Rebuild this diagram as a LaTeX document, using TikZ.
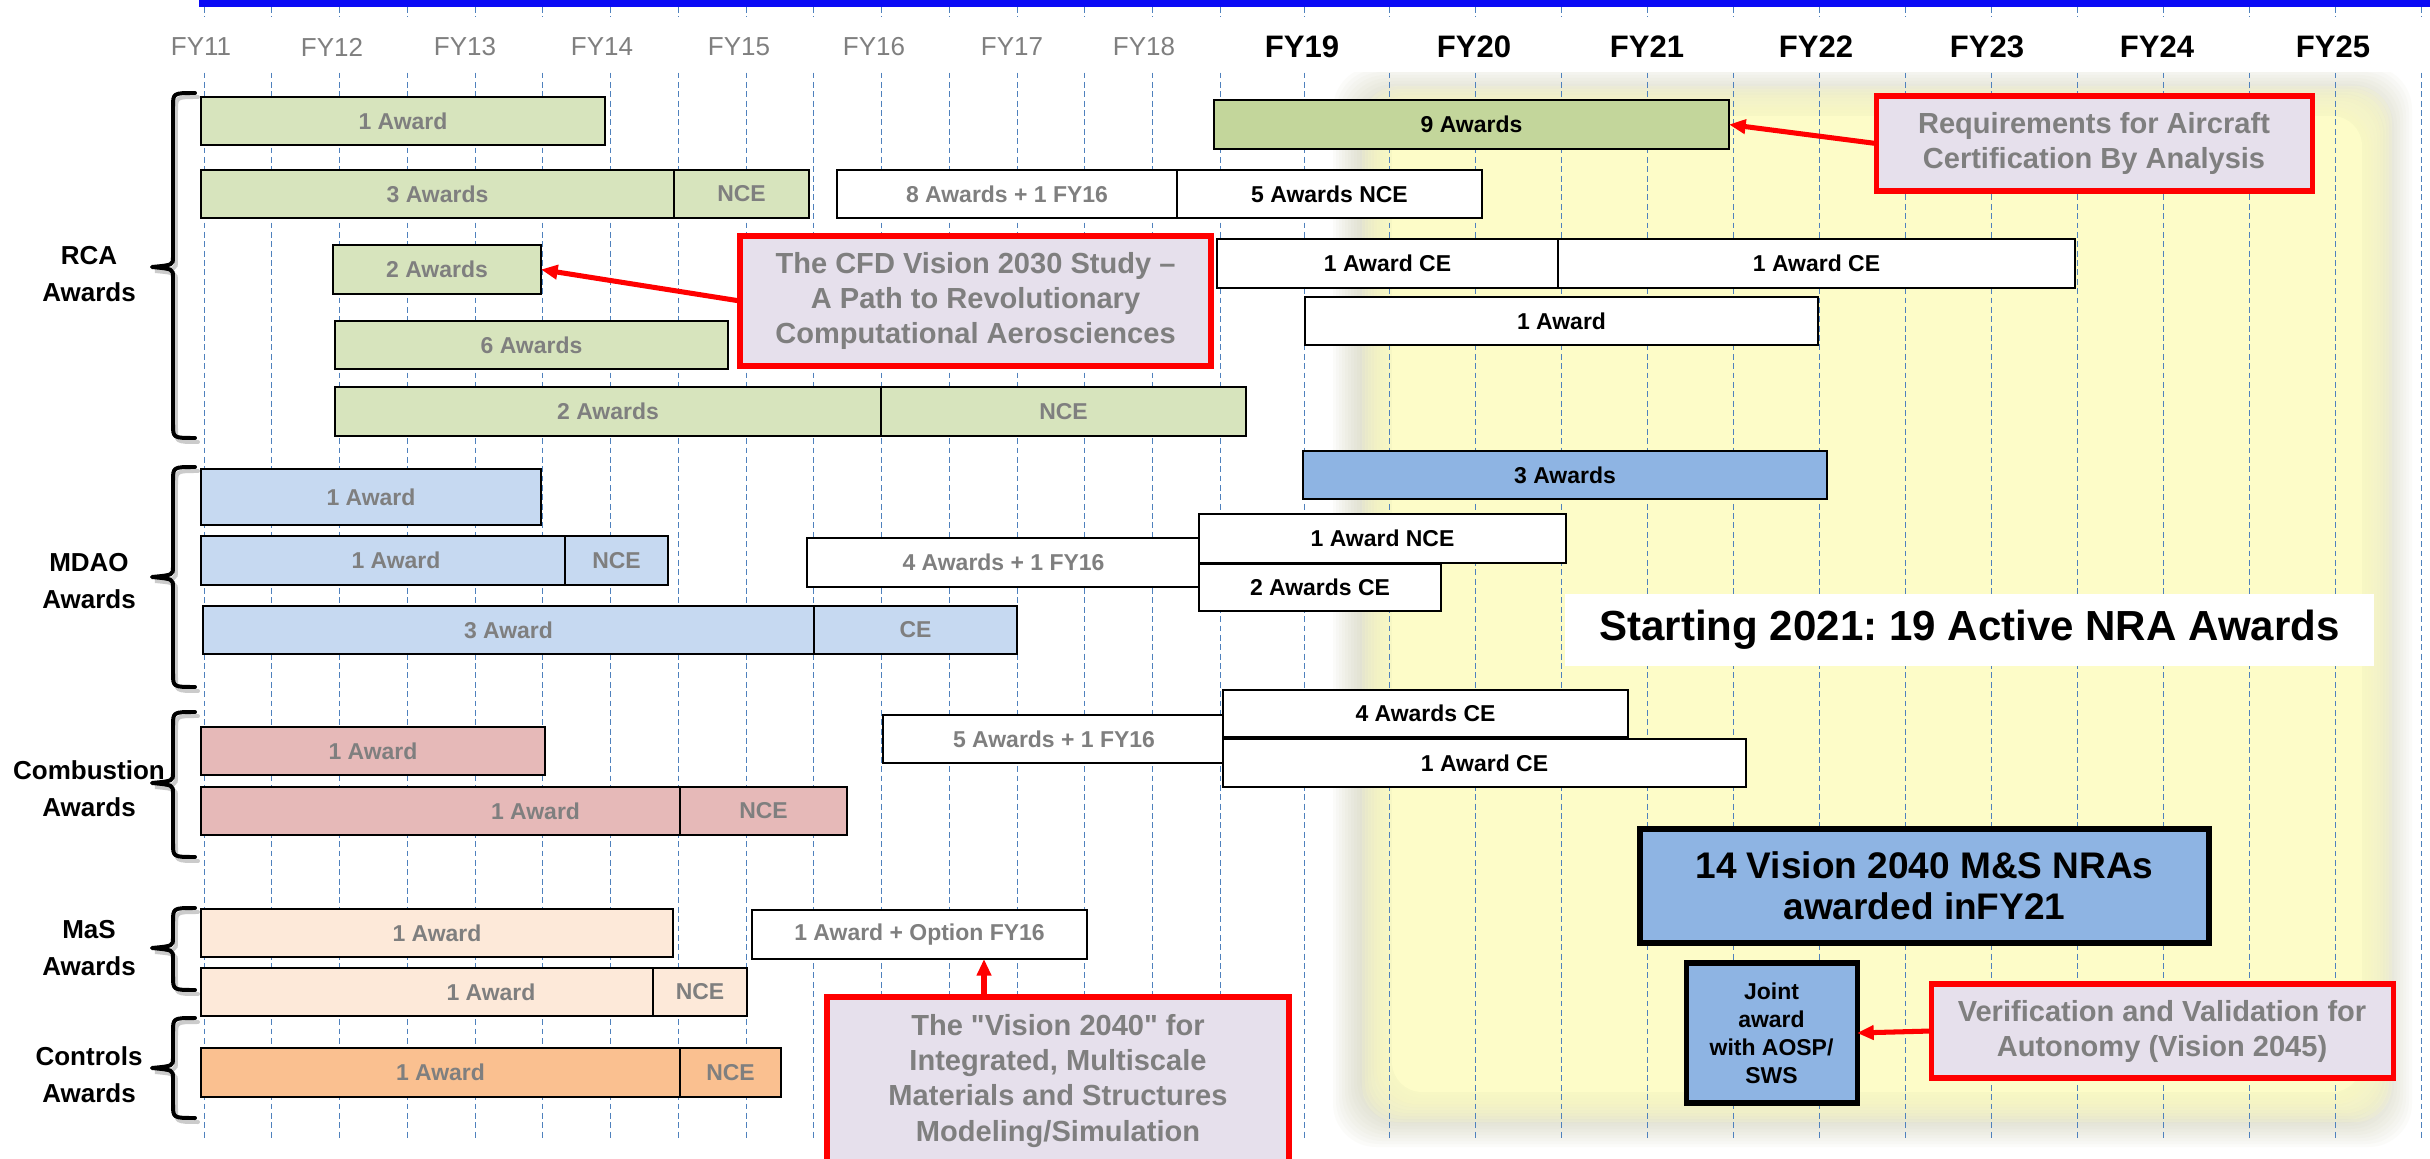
\documentclass[tikz,border=0pt]{standalone}
\usepackage{fontspec}
\setmainfont{Liberation Sans}
\usetikzlibrary{arrows.meta}
\definecolor{grnL}{HTML}{D7E4BD}
\definecolor{grnD}{HTML}{C3D69B}
\definecolor{bluL}{HTML}{C6D9F1}
\definecolor{bluD}{HTML}{8EB4E3}
\definecolor{pnk}{HTML}{E6B9B8}
\definecolor{pch}{HTML}{FDE9D9}
\definecolor{org}{HTML}{FAC090}
\definecolor{calf}{HTML}{E6E0EC}
\definecolor{tgray}{HTML}{7F7F7F}
\definecolor{dashc}{HTML}{4F81BD}
\definecolor{yel}{HTML}{FDFCC8}
\definecolor{glow}{HTML}{C4C4A0}
\definecolor{topblue}{HTML}{0A0AF5}
\newcommand{\bx}[7]{\node[#6, anchor=north west, minimum width={(#4-#2)*0.03cm}, minimum height={(#5-#3)*0.03cm}] (#1) at (#2,#3) {#7};}
\newcommand{\brc}[3]{%
  \draw[brshadow] (195,#1) .. controls (173,#1) .. (173,{#1+14}) -- (173,{#3-10}) .. controls (173,{#3-2}) .. (152,#3) .. controls (173,{#3+2}) .. (173,{#3+10}) -- (173,{#2-14}) .. controls (173,#2) .. (195,#2);
  \draw[brc] (195,#1) .. controls (173,#1) .. (173,{#1+14}) -- (173,{#3-10}) .. controls (173,{#3-2}) .. (152,#3) .. controls (173,{#3+2}) .. (173,{#3+10}) -- (173,{#2-14}) .. controls (173,#2) .. (195,#2);}
\frenchspacing
\begin{document}
\begin{tikzpicture}[x=0.03cm, y=-0.03cm,
  bx/.style={draw=black, line width=1.7pt, inner sep=0pt, outer sep=0pt, font=\fontsize{19.6}{23}\selectfont\bfseries, text=tgray},
  blk/.style={text=black},
  call/.style={draw=red, line width=4.3pt, fill=calf, text=tgray, align=center, inner sep=0pt, outer sep=0pt, font=\fontsize{24.8}{29.9}\selectfont\bfseries},
  redarrow/.style={draw=red, line width=4.3pt, -{Triangle[length=0.5cm,width=0.42cm]}},
  dl/.style={draw=dashc, line width=0.8pt, dash pattern=on 5pt off 3pt},
  grp/.style={align=center, font=\fontsize{22.2}{31.6}\selectfont\bfseries, inner sep=0pt},
  fyl/.style={font=\fontsize{22.2}{26}\selectfont, text=tgray, inner sep=0pt},
  fyr/.style={font=\fontsize{26.5}{30}\selectfont\bfseries, text=black, inner sep=0pt},
  brc/.style={draw=black, line width=3.4pt, line cap=round, line join=round},
  brshadow/.style={draw=black!40, opacity=0.5, line width=3.4pt, line cap=round, shift={(3,4)}}
]
\useasboundingbox (0,0) rectangle (2430,1159);
\fill[white] (0,0) rectangle (2430,1159);
% yellow highlighted region with soft edge
\foreach \i in {0,...,15} {
  \fill[glow, opacity=0.055, rounded corners=1.3cm] ({1333+3*\i},{66+3*\i}) rectangle ({2412-3*\i},{1147-3*\i});
}
\foreach \i in {0,...,9} {
  \fill[yel, opacity=0.22, rounded corners=1.1cm] ({1362+3*\i},{86+3*\i}) rectangle ({2392-3*\i},{1122-3*\i});
}
\fill[yel, rounded corners=0.9cm] (1392,116) rectangle (2362,1092);
% dashed grid lines
\foreach \k in {0,...,15} \draw[dl] ({204+67.75*\k},7) -- ({204+67.75*\k},1138);
\foreach \k in {0,...,13} \draw[dl] ({1304+85.95*\k},7) -- ({1304+85.95*\k},1138);
\fill[white] (190,17) rectangle (2430,72);
\fill[topblue] (199,0) rectangle (2430,7);
% year labels
\foreach \n/\x in {11/201,12/332,13/465,14/602,15/739,16/874,17/1012,18/1144}
  \node[fyl] (fy\n) at (\x,47) {FY\n};
\foreach \n/\x in {19/1302,20/1474,21/1647,22/1816,23/1987,24/2157,25/2333}
  \node[fyr] (fy\n) at (\x,47) {FY\n};
% RCA
\bx{r1a}{201}{97}{605}{145}{bx, fill=grnL}{1 Award}
\bx{r9}{1214}{100}{1729}{149}{bx, fill=grnD, blk}{9 Awards}
\bx{r2a}{201}{170}{674}{218}{bx, fill=grnL}{3 Awards}
\bx{r2b}{674}{170}{809}{218}{bx, fill=grnL}{NCE}
\bx{r2c}{837}{170}{1177}{218}{bx, fill=white}{8 Awards + 1 FY16}
\bx{r2d}{1177}{170}{1482}{218}{bx, fill=white, blk}{5 Awards NCE}
\bx{r3a}{333}{245}{541}{294}{bx, fill=grnL}{2 Awards}
\bx{r3b}{1217}{239}{1558}{288}{bx, fill=white, blk}{1 Award CE}
\bx{r3c}{1558}{239}{2075}{288}{bx, fill=white, blk}{1 Award CE}
\bx{r4a}{335}{321}{728}{369}{bx, fill=grnL}{6 Awards}
\bx{r4b}{1305}{297}{1818}{345}{bx, fill=white, blk}{1 Award}
\bx{r5a}{335}{387}{881}{436}{bx, fill=grnL}{2 Awards}
\bx{r5b}{881}{387}{1246}{436}{bx, fill=grnL}{NCE}
% MDAO
\bx{m1}{201}{469}{541}{525}{bx, fill=bluL}{1 Award}
\bx{m2a}{201}{536}{565}{585}{bx, fill=bluL}{\hspace*{0.78cm}1 Award}
\bx{m2b}{565}{536}{668}{585}{bx, fill=bluL}{NCE}
\bx{m3a}{203}{606}{814}{654}{bx, fill=bluL}{3 Award}
\bx{m3b}{814}{606}{1017}{654}{bx, fill=bluL}{CE}
\bx{m4}{807}{538}{1200}{587}{bx, fill=white}{4 Awards + 1 FY16}
\bx{m5}{1303}{451}{1827}{499}{bx, fill=bluD, blk}{3 Awards}
\bx{m6}{1199}{514}{1566}{563}{bx, fill=white, blk}{1 Award NCE}
\bx{m7}{1199}{564}{1441}{611}{bx, fill=white, blk}{2 Awards CE}
% Combustion
\bx{c1}{201}{727}{545}{775}{bx, fill=pnk}{1 Award}
\bx{c2a}{201}{787}{680}{835}{bx, fill=pnk}{\hspace*{5.7cm}1 Award}
\bx{c2b}{680}{787}{847}{835}{bx, fill=pnk}{NCE}
\bx{c3}{883}{715}{1225}{763}{bx, fill=white}{5 Awards + 1 FY16}
\bx{c4}{1223}{690}{1628}{737}{bx, fill=white, blk}{4 Awards CE}
\bx{c5}{1223}{739}{1746}{787}{bx, fill=white, blk}{1 Award CE}
% MaS
\bx{s1}{201}{909}{673}{957}{bx, fill=pch}{1 Award}
\bx{s2a}{201}{968}{653}{1016}{bx, fill=pch}{\hspace*{3.84cm}1 Award}
\bx{s2b}{653}{968}{747}{1016}{bx, fill=pch}{NCE}
\bx{s3}{752}{910}{1087}{959}{bx, fill=white}{1 Award + Option FY16}
% Controls
\bx{k1a}{201}{1048}{680}{1097}{bx, fill=org}{1 Award}
\bx{k1b}{680}{1048}{781}{1097}{bx, fill=org}{NCE}
% right side boxes
\bx{start}{1565}{594}{2374}{666}{fill=white, inner sep=0pt, outer sep=0pt, font=\fontsize{35.9}{40}\selectfont\bfseries}{Starting 2021: 19 Active NRA Awards}
\bx{nra}{1640}{829}{2209}{943}{draw=black, line width=5pt, fill=bluD, align=center, inner sep=0pt, outer sep=0pt, font=\fontsize{31.6}{35}\selectfont\bfseries}{14 Vision 2040 M\&S NRAs\\awarded inFY21}
\bx{joint}{1686}{963}{1857}{1103}{draw=black, line width=4.3pt, fill=bluD, align=center, inner sep=0pt, outer sep=0pt, font=\fontsize{19.6}{24}\selectfont\bfseries}{Joint\\award\\with AOSP/\\SWS}
% callouts
\bx{cReq}{1876}{96}{2312}{191}{call}{Requirements for Aircraft\\Certification By Analysis}
\bx{cCFD}{740}{236}{1211}{366}{call}{The CFD Vision 2030 Study --\\A Path to Revolutionary\\Computational Aerosciences}
\bx{cVis}{827}{997}{1289}{1165}{call}{The \textquotedbl Vision 2040\textquotedbl{} for\\Integrated, Multiscale\\Materials and Structures\\Modeling/Simulation}
\bx{cVV}{1931}{984}{2393}{1078}{call}{Verification and Validation for\\Autonomy (Vision 2045)}
% arrows
\draw[redarrow] (cReq.west) -- (r9.east);
\draw[redarrow] (cCFD.west) -- (r3a.east);
\coordinate (vx) at (984,0);
\draw[redarrow] (cVis.north -| vx) -- (s3.south -| vx);
\draw[redarrow] (cVV.west) -- (joint.east);
% braces
\brc{93}{438}{267}
\brc{467}{687}{577}
\brc{712}{857}{783}
\brc{908}{990}{948}
\brc{1018}{1118}{1068}
% group labels
\node[grp] (lRCA) at (89,274.5) {RCA\\Awards};
\node[grp] (lMDAO) at (89,581.5) {MDAO\\Awards};
\node[grp] (lComb) at (89,788.5) {Combustion\\Awards};
\node[grp] (lMaS) at (89,948.5) {MaS\\Awards};
\node[grp] (lCtl) at (89,1075) {Controls\\Awards};
\end{tikzpicture}
\end{document}
